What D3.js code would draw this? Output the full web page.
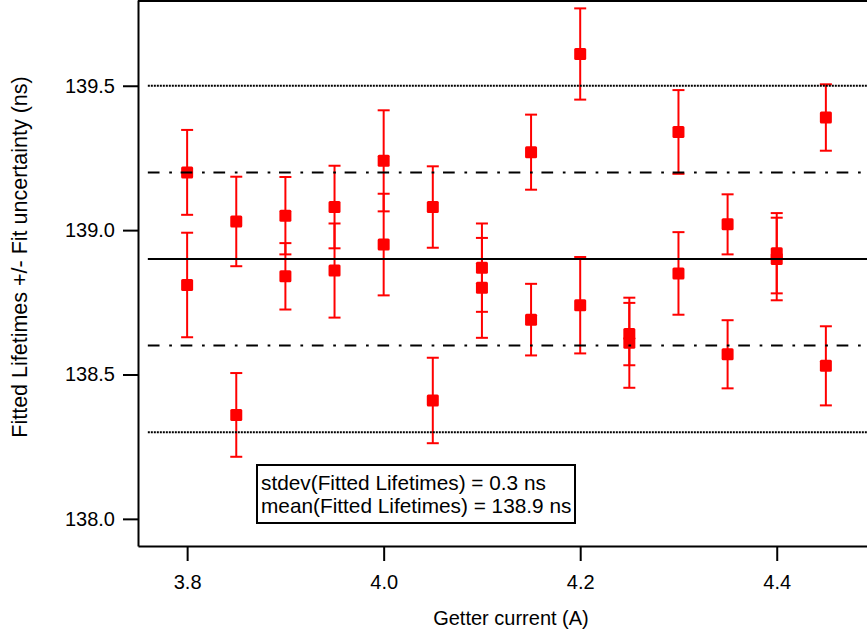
<!DOCTYPE html>
<html lang="en">
  <head>
    <meta charset="UTF-8">
    <style>
        body {
            margin: 0;
            background: #fff;
            font-family: "Liberation Sans", Arial, sans-serif;
        }
        .axis text {
            font-size: 20px;
            fill: #000;
        }
        .axis path, .axis line {
            stroke: #000;
            stroke-width: 2px;
        }
        .errbar line {
            stroke: #ff0000;
            stroke-width: 2px;
        }
    </style>
    <script src="https://d3js.org/d3.v7.min.js"></script>
    <title>Fitted Lifetimes vs Getter current</title>
  </head>
  <body>
  <script>
      // getter current (A), two fits per setting
      const currents = [3.80, 3.85, 3.90, 3.95, 4.00, 4.05, 4.10, 4.15, 4.20, 4.25, 4.30, 4.35, 4.40, 4.45];
      const lifetimesA = [139.20, 139.03, 139.05, 139.08, 139.24, 139.08, 138.87, 139.27, 139.61, 138.64, 139.34, 139.02, 138.92, 139.39];
      const errorsA    = [0.147, 0.155, 0.134, 0.143, 0.175, 0.141, 0.153, 0.130, 0.158, 0.108, 0.145, 0.104, 0.139, 0.115];
      const lifetimesB = [138.81, 138.36, 138.84, 138.86, 138.95, 138.41, 138.80, 138.69, 138.74, 138.61, 138.85, 138.57, 138.90, 138.53];
      const errorsB    = [0.181, 0.145, 0.115, 0.163, 0.176, 0.148, 0.173, 0.124, 0.167, 0.156, 0.143, 0.118, 0.143, 0.137];

      const meanLifetime = 138.9, stdevLifetime = 0.3;
      const xTicks = [3.8, 4.0, 4.2, 4.4];
      const yTicks = [138.0, 138.5, 139.0, 139.5];
      const statLines = ['stdev(Fitted Lifetimes) = 0.3 ns', 'mean(Fitted Lifetimes) = 138.9 ns'];

      const W = 867, H = 637;
      const left = 138, bottom = 546;

      const x = d3.scaleLinear().domain([3.75, 4.5]).range([left, 875]);
      const y = d3.scaleLinear().domain([137.906, 139.797]).range([bottom, 0]);

      const svg = d3.select('body').append('svg')
          .attr('width', W)
          .attr('height', H);

      const points = [];
      currents.forEach((c, i) => {
          points.push({x: c, v: lifetimesA[i], e: errorsA[i]});
          points.push({x: c, v: lifetimesB[i], e: errorsB[i]});
      });

      // error bars
      const bars = svg.append('g').attr('class', 'errbar')
          .selectAll('g').data(points).enter().append('g');
      bars.append('line')
          .attr('x1', d => x(d.x)).attr('x2', d => x(d.x))
          .attr('y1', d => y(d.v + d.e)).attr('y2', d => y(d.v - d.e));
      bars.append('line')
          .attr('x1', d => x(d.x) - 6).attr('x2', d => x(d.x) + 6)
          .attr('y1', d => y(d.v + d.e)).attr('y2', d => y(d.v + d.e));
      bars.append('line')
          .attr('x1', d => x(d.x) - 6).attr('x2', d => x(d.x) + 6)
          .attr('y1', d => y(d.v - d.e)).attr('y2', d => y(d.v - d.e));

      // markers
      svg.append('g').selectAll('rect').data(points).enter().append('rect')
          .attr('x', d => x(d.x) - 6)
          .attr('y', d => y(d.v) - 6)
          .attr('width', 12).attr('height', 12)
          .attr('rx', 1.5)
          .attr('fill', '#ff0000');

      // mean and +/- 1, 2 stdev lines
      const refLines = [
          {v: meanLifetime, dash: null},
          {v: meanLifetime + stdevLifetime, dash: '11.7 9.7 2.7 8.7'},
          {v: meanLifetime - stdevLifetime, dash: '11.7 9.7 2.7 8.7'},
          {v: meanLifetime + 2 * stdevLifetime, dash: '2 1'},
          {v: meanLifetime - 2 * stdevLifetime, dash: '2 1'}
      ];
      svg.append('g').selectAll('line').data(refLines).enter().append('line')
          .attr('x1', x(3.76)).attr('x2', x(4.5))
          .attr('y1', d => y(d.v)).attr('y2', d => y(d.v))
          .attr('stroke', '#000')
          .attr('stroke-width', 2)
          .attr('stroke-dasharray', d => d.dash);

      // axes
      svg.append('g').attr('class', 'axis')
          .attr('transform', `translate(0,${bottom})`)
          .call(d3.axisBottom(x).tickValues(xTicks).tickFormat(d3.format('.1f'))
              .tickSize(15).tickSizeOuter(0).tickPadding(14));
      svg.append('g').attr('class', 'axis')
          .attr('transform', `translate(${left},0)`)
          .call(d3.axisLeft(y).tickValues(yTicks).tickFormat(d3.format('.1f'))
              .tickSize(15).tickSizeOuter(0).tickPadding(8));

      // top frame line
      svg.append('line')
          .attr('x1', left).attr('x2', W)
          .attr('y1', 1).attr('y2', 1)
          .attr('stroke', '#000').attr('stroke-width', 2);

      svg.append('text')
          .attr('x', 511).attr('y', 618)
          .attr('text-anchor', 'middle')
          .attr('dominant-baseline', 'central')
          .style('font-size', '20px')
          .text('Getter current (A)');

      svg.append('text')
          .attr('transform', 'translate(20,257) rotate(-90)')
          .attr('text-anchor', 'middle')
          .attr('dominant-baseline', 'central')
          .style('font-size', '21.5px')
          .text('Fitted Lifetimes +/- Fit uncertainty (ns)');

      // stats box
      const box = svg.append('g');
      box.append('rect')
          .attr('x', 257).attr('y', 465)
          .attr('width', 318).attr('height', 58)
          .attr('fill', '#fff')
          .attr('stroke', '#000')
          .attr('stroke-width', 2);
      box.selectAll('text').data(statLines).enter().append('text')
          .attr('x', 261)
          .attr('y', (d, i) => 482 + i * 23.5)
          .attr('dominant-baseline', 'central')
          .style('font-size', '20.8px')
          .text(d => d);
  </script>
  </body>
</html>
